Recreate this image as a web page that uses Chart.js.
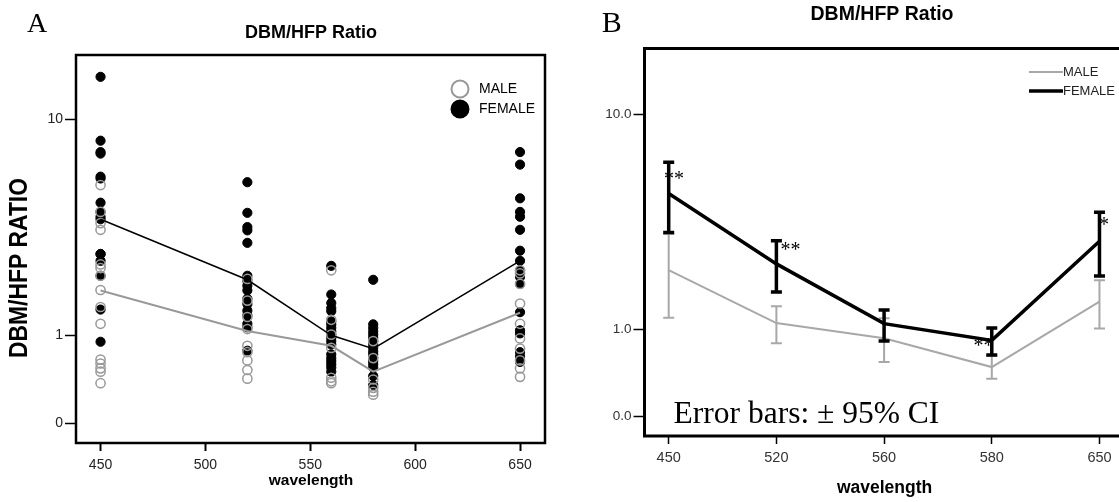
<!DOCTYPE html>
<html>
<head>
<meta charset="utf-8">
<script src="https://cdn.jsdelivr.net/npm/chart.js@4.4.1/dist/chart.umd.min.js"></script>
<style>
  html, body { margin: 0; padding: 0; background: #fff; overflow: hidden; }
  #wrap { position: relative; width: 1119px; height: 502px; overflow: hidden; }
  #boxA { position: absolute; left: 0; top: 0; width: 560px; height: 502px; }
  #boxB { position: absolute; left: 560px; top: 0; width: 580px; height: 502px; }
</style>
</head>
<body>
<div id="wrap">
  <div id="boxA"><canvas id="chartA"></canvas></div>
  <div id="boxB"><canvas id="chartB"></canvas></div>
</div>
<script>
// DBM/HFP ratio by wavelength, male vs female
// A: individual ratios + means, B: means with 95% CI

const wavelengths = [450, 520, 560, 580, 650];
const xTicksA = [450, 500, 550, 600, 650];
const yTicks = [0, 1, 10];

// panel A, one list per wavelength
const femaleRatios = [
  [14.4, 8.3, 7.5, 7.4, 6.0, 5.9, 4.7, 4.3, 4.1, 4.0, 2.8, 2.8, 2.6, 2.2, 1.45, 0.9],
  [5.7, 4.26, 3.7, 3.58, 3.15, 2.2, 2.08, 1.96, 1.85, 1.67, 1.56, 1.43, 1.34, 1.19, 1.13, 0.77],
  [2.46, 1.76, 1.58, 1.48, 1.42, 1.23, 1.18, 1.12, 1.06, 1.01, 0.96, 0.91, 0.86, 0.72, 0.67, 0.63, 0.59, 0.55, 0.5],
  [2.1, 1.18, 1.12, 1.06, 1.01, 0.96, 0.91, 0.86, 0.81, 0.76, 0.72, 0.67, 0.63, 0.59, 0.55, 0.45, 0.35],
  [7.5, 6.7, 4.9, 4.3, 4.1, 3.6, 2.9, 2.6, 2.34, 2.17, 2.0, 1.4, 1.08, 1.03, 0.75, 0.69, 0.62],
];
const maleRatios = [
  [5.55, 4.3, 3.85, 3.6, 2.5, 2.4, 2.2, 1.86, 1.5, 1.19, 0.65, 0.6, 0.54, 0.5, 0.37],
  [2.12, 1.63, 1.31, 1.1, 0.84, 0.75, 0.64, 0.52, 0.42],
  [2.34, 1.26, 1.01, 0.81, 0.43, 0.39, 0.37],
  [0.91, 0.67, 0.41, 0.32, 0.28, 0.25],
  [2.34, 2.26, 2.0, 1.57, 1.19, 0.95, 0.8, 0.64, 0.54, 0.44],
];
const femaleMeanA = [4.0, 2.1, 1.0, 0.8, 2.6];
const maleMeanA = [1.85, 1.07, 0.84, 0.5, 1.39];

// panel B
const femaleMeanB = [4.88, 2.36, 1.09, 0.83, 3.02];
const femaleLowB = [3.31, 1.69, 0.82, 0.63, 2.05];
const femaleHighB = [6.53, 3.04, 1.33, 1.02, 4.06];
const maleMeanB = [2.2, 1.1, 0.86, 0.48, 1.49];
const maleLowB = [1.19, 0.79, 0.54, 0.35, 1.01];
const maleHighB = [3.26, 1.4, 1.18, 0.62, 1.95];
const stars = ["**", "**", "", "**", "*"];

Chart.defaults.font.family = "'Liberation Sans', Arial, sans-serif";
Chart.defaults.color = "#000";

// SPSS style "safe log" axis: log10(v + 1), so 0 has a place
class SafeLogScale extends Chart.Scale {
  determineDataLimits() {
    const { min, max } = this.getMinMax(true);
    this.min = min;
    this.max = max;
  }
  buildTicks() {
    return [];
  }
  configure() {
    super.configure();
    this._lo = Math.log10(this.min + 1);
    this._span = Math.log10(this.max + 1) - this._lo;
  }
  getPixelForValue(v) {
    return this.getPixelForDecimal((Math.log10(v + 1) - this._lo) / this._span);
  }
  getValueForPixel(p) {
    return Math.pow(10, this._lo + this.getDecimalForPixel(p) * this._span) - 1;
  }
}
SafeLogScale.id = "safelog";
SafeLogScale.defaults = {};
Chart.register(SafeLogScale);

function drawText(ctx, t) {
  ctx.save();
  ctx.font = t.font;
  ctx.fillStyle = t.color || "#000";
  ctx.textAlign = t.align || "center";
  ctx.textBaseline = t.baseline || "middle";
  ctx.translate(t.x, t.y);
  if (t.rotate) ctx.rotate(t.rotate);
  if (t.squeeze) ctx.scale(t.squeeze, 1);
  ctx.fillText(t.text, 0, 0);
  ctx.restore();
}

const frame = {
  id: "frame",
  afterDatasetsDraw(chart, args, opts) {
    const { ctx, chartArea: a } = chart;
    ctx.save();
    ctx.lineWidth = opts.width;
    ctx.strokeStyle = "#000";
    ctx.strokeRect(a.left, a.top, a.right - a.left, a.bottom - a.top);
    ctx.restore();
  },
};

const labels = {
  id: "labels",
  afterDraw(chart, args, opts) {
    opts.items.forEach((t) => drawText(chart.ctx, t));
  },
};

const dotLegend = {
  id: "dotLegend",
  afterDraw(chart, args, opts) {
    if (!opts.items) return;
    const ctx = chart.ctx;
    opts.items.forEach((it) => {
      const ds = chart.data.datasets[it.dataset];
      ctx.save();
      ctx.beginPath();
      ctx.arc(opts.x, it.y, opts.radius, 0, Math.PI * 2);
      if (ds.backgroundColor !== "transparent") {
        ctx.fillStyle = ds.backgroundColor;
        ctx.fill();
      }
      ctx.lineWidth = 2;
      ctx.strokeStyle = ds.borderColor;
      ctx.stroke();
      drawText(ctx, { text: ds.label, font: opts.font, x: opts.textX, y: it.y, align: "left" });
      ctx.restore();
    });
  },
};

const lineLegend = {
  id: "lineLegend",
  afterDraw(chart, args, opts) {
    if (!opts.items) return;
    const ctx = chart.ctx;
    opts.items.forEach((it) => {
      const ds = chart.data.datasets[it.dataset];
      ctx.save();
      ctx.beginPath();
      ctx.moveTo(opts.x1, it.y);
      ctx.lineTo(opts.x2, it.y);
      ctx.lineWidth = ds.borderWidth;
      ctx.strokeStyle = ds.borderColor;
      ctx.stroke();
      drawText(ctx, { text: ds.label, font: opts.font, x: opts.x2, y: it.y, align: "left", color: "#222" });
      ctx.restore();
    });
  },
};

const errorBars = {
  id: "errorBars",
  afterDatasetDraw(chart, args, opts) {
    const ds = chart.data.datasets[args.index];
    if (!ds.errLow) return;
    const ctx = chart.ctx;
    const y = chart.scales.y;
    ctx.save();
    ctx.strokeStyle = ds.borderColor;
    ctx.lineWidth = ds.errWidth;
    ctx.lineCap = "butt";
    args.meta.data.forEach((pt, i) => {
      const lo = y.getPixelForValue(ds.errLow[i]);
      const hi = y.getPixelForValue(ds.errHigh[i]);
      const c = ds.capWidth / 2;
      ctx.beginPath();
      ctx.moveTo(pt.x, lo);
      ctx.lineTo(pt.x, hi);
      ctx.moveTo(pt.x - c, lo);
      ctx.lineTo(pt.x + c, lo);
      ctx.moveTo(pt.x - c, hi);
      ctx.lineTo(pt.x + c, hi);
      ctx.stroke();
      if (ds.stars && ds.stars[i]) {
        const off = opts.starOffsets[i];
        drawText(ctx, {
          text: ds.stars[i],
          font: "20px 'Liberation Serif'",
          x: pt.x + off[0],
          y: hi + off[1] + 3,
        });
      }
    });
    ctx.restore();
  },
};

function scatterPoints(lists) {
  return lists.flatMap((vals, i) => vals.map((v) => ({ x: wavelengths[i], y: v })));
}

// ---------- panel A ----------
const chartA = new Chart(document.querySelector("#chartA"), {
  type: "scatter",
  data: {
    datasets: [
      {
        label: "FEMALE mean",
        data: wavelengths.map((w, i) => ({ x: w, y: femaleMeanA[i] })),
        showLine: true,
        borderColor: "#000",
        borderWidth: 1.5,
        pointRadius: 0,
      },
      {
        label: "MALE mean",
        data: wavelengths.map((w, i) => ({ x: w, y: maleMeanA[i] })),
        showLine: true,
        borderColor: "#999",
        borderWidth: 2,
        pointRadius: 0,
      },
      {
        label: "MALE",
        data: scatterPoints(maleRatios),
        backgroundColor: "transparent",
        borderColor: "#999",
        borderWidth: 1.5,
        pointRadius: 4.6,
      },
      {
        label: "FEMALE",
        data: scatterPoints(femaleRatios),
        backgroundColor: "#000",
        borderColor: "#000",
        borderWidth: 1,
        pointRadius: 4.6,
      },
    ],
  },
  options: {
    responsive: true,
    maintainAspectRatio: false,
    animation: false,
    devicePixelRatio: 1,
    layout: { padding: { top: 55, right: 15, bottom: 0, left: 0 } },
    scales: {
      x: {
        type: "linear",
        min: 438.3,
        max: 661.9,
        afterBuildTicks: (s) => { s.ticks = xTicksA.map((v) => ({ value: v })); },
        afterFit: (s) => { s.height = 59; },
        grid: { drawOnChartArea: false, tickLength: 8, color: "#000", tickWidth: 2 },
        border: { display: false },
        ticks: { font: { size: 14 }, color: "#222", padding: 6, maxRotation: 0 },
      },
      y: {
        type: "safelog",
        min: -0.146,
        max: 17.3,
        afterBuildTicks: (s) => { s.ticks = yTicks.map((v) => ({ value: v })); },
        afterFit: (s) => { s.width = 76; },
        grid: { drawOnChartArea: false, tickLength: 11, color: "#000", tickWidth: 1.5 },
        border: { display: false },
        ticks: { font: { size: 14 }, color: "#222", padding: 2, callback: (v) => String(v) },
      },
    },
    plugins: {
      legend: { display: false },
      tooltip: { enabled: false },
      frame: { width: 2.5 },
      dotLegend: {
        x: 460,
        textX: 479,
        radius: 8.5,
        font: "14px 'Liberation Sans'",
        items: [
          { dataset: 2, y: 89 },
          { dataset: 3, y: 109 },
        ],
      },
      labels: {
        items: [
          { text: "A", font: "28px 'Liberation Serif'", x: 27, y: 31.5, align: "left", baseline: "alphabetic" },
          { text: "DBM/HFP Ratio", font: "bold 18px 'Liberation Sans'", x: 311, y: 33 },
          { text: "DBM/HFP RATIO", font: "bold 26px 'Liberation Sans'", x: 20, y: 268, rotate: -Math.PI / 2, squeeze: 0.88 },
          { text: "wavelength", font: "bold 15.5px 'Liberation Sans'", x: 311, y: 481 },
        ],
      },
    },
  },
  plugins: [frame, labels, dotLegend],
});

// ---------- panel B ----------
const chartB = new Chart(document.querySelector("#chartB"), {
  type: "scatter",
  data: {
    datasets: [
      {
        label: "FEMALE",
        data: femaleMeanB.map((v, i) => ({ x: i, y: v })),
        showLine: true,
        borderColor: "#000",
        borderWidth: 3.5,
        pointRadius: 0,
        errLow: femaleLowB,
        errHigh: femaleHighB,
        errWidth: 3.5,
        capWidth: 11,
        stars: stars,
      },
      {
        label: "MALE",
        data: maleMeanB.map((v, i) => ({ x: i, y: v })),
        showLine: true,
        borderColor: "#a8a8a8",
        borderWidth: 2,
        pointRadius: 0,
        errLow: maleLowB,
        errHigh: maleHighB,
        errWidth: 2,
        capWidth: 11,
      },
    ],
  },
  options: {
    responsive: true,
    maintainAspectRatio: false,
    animation: false,
    devicePixelRatio: 1,
    layout: { padding: { top: 48.5, right: 15, bottom: 0, left: 0 } },
    scales: {
      x: {
        type: "linear",
        min: -0.2247,
        max: 4.237,
        afterBuildTicks: (s) => { s.ticks = wavelengths.map((w, i) => ({ value: i })); },
        afterFit: (s) => { s.height = 66; },
        grid: { drawOnChartArea: false, tickLength: 8, color: "#000", tickWidth: 1.5 },
        border: { display: false },
        ticks: { font: { size: 14.5 }, color: "#333", padding: 5, maxRotation: 0, callback: (v) => String(wavelengths[v]) },
      },
      y: {
        type: "safelog",
        min: -0.144,
        max: 17.6,
        afterBuildTicks: (s) => { s.ticks = yTicks.map((v) => ({ value: v })); },
        afterFit: (s) => { s.width = 84.5; },
        grid: { drawOnChartArea: false, tickLength: 11, color: "#000", tickWidth: 1.5 },
        border: { display: false },
        ticks: { font: { size: 13.5 }, color: "#333", padding: 2, callback: (v) => v.toFixed(1) },
      },
    },
    plugins: {
      legend: { display: false },
      tooltip: { enabled: false },
      frame: { width: 3 },
      errorBars: {
        starOffsets: [[5.3, 14], [14, 7.4], [0, 0], [-8.4, 16], [4.6, 10]],
      },
      lineLegend: {
        x1: 469,
        x2: 503,
        font: "13px 'Liberation Sans'",
        items: [
          { dataset: 1, y: 72 },
          { dataset: 0, y: 91 },
        ],
      },
      labels: {
        items: [
          { text: "B", font: "30px 'Liberation Serif'", x: 41.7, y: 32.3, align: "left", baseline: "alphabetic" },
          { text: "DBM/HFP Ratio", font: "bold 19.5px 'Liberation Sans'", x: 322, y: 15 },
          { text: "wavelength", font: "bold 17.5px 'Liberation Sans'", x: 324.6, y: 488 },
          { text: "Error bars: \u00b1 95% CI", font: "31.5px 'Liberation Serif'", x: 113.6, y: 423, align: "left", baseline: "alphabetic" },
        ],
      },
    },
  },
  plugins: [frame, labels, errorBars, lineLegend],
});
</script>
</body>
</html>
